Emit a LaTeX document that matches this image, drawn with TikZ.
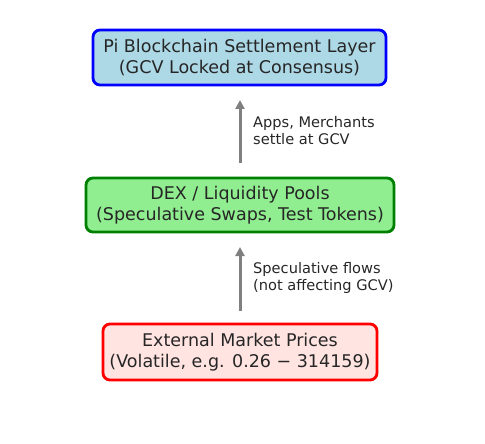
\documentclass[tikz,border=0pt]{standalone}
\usepackage{fontspec}
\setmainfont{DejaVu Sans}
\usetikzlibrary{arrows.meta}
\definecolor{txt}{HTML}{262626}
\definecolor{lblue}{HTML}{ADD8E6}
\definecolor{lgreen}{HTML}{90EE90}
\definecolor{mrose}{HTML}{FFE4E1}
\definecolor{dgreen}{HTML}{008000}
\definecolor{arrgray}{HTML}{808080}
\begin{document}
\begin{tikzpicture}[x=1pt,y=-1pt,
  layer/.style={rounded corners=7pt, line width=2.8pt, align=center, text=txt,
    font=\fontsize{17.5}{21}\selectfont, inner sep=0pt},
  lbl/.style={anchor=west, align=left, text=txt, font=\fontsize{14.6}{17}\selectfont, inner sep=0pt},
  flow/.style={-{Triangle[length=9pt,width=9pt]}, line width=3pt, arrgray}]
\useasboundingbox (0,0) rectangle (485,444);
\node[layer, draw=blue, fill=lblue, minimum width=293pt, minimum height=55pt] (top) at (239.5,57.5)
  {Pi Blockchain Settlement Layer\\(GCV Locked at Consensus)};
\node[layer, draw=dgreen, fill=lgreen, minimum width=308pt, minimum height=54pt] (mid) at (240,205)
  {DEX / Liquidity Pools\\(Speculative Swaps, Test Tokens)};
\node[layer, draw=red, fill=mrose, minimum width=274pt, minimum height=56pt] (bot) at (240,352)
  {External Market Prices\\(Volatile, e.g. 0.26 − 314159)};
\coordinate (a1s) at (240,163);
\coordinate (a1e) at (240,100);
\coordinate (a2s) at (240,311);
\coordinate (a2e) at (240,247);
\draw[flow] (a1s) -- (a1e);
\draw[flow] (a2s) -- (a2e);
\node[lbl] (l1) at (253,131) {Apps, Merchants\\settle at GCV};
\node[lbl] (l2) at (253,278) {Speculative flows\\(not affecting GCV)};
\end{tikzpicture}
\end{document}
